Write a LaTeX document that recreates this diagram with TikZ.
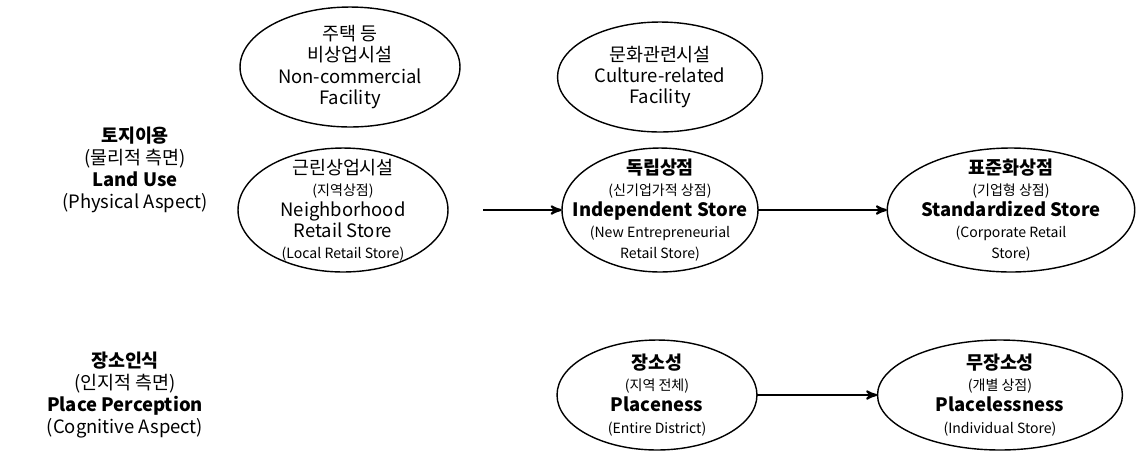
\documentclass[tikz,border=0pt]{standalone}
\usepackage{fontspec}
\setmainfont{Noto Sans CJK KR}
\usetikzlibrary{arrows,positioning}
\tikzset{
	%Define standard arrow tip
	>=stealth',
	%Define style for the boxes that hold the ellipse texts
	oval/.style 2 args={
		inner sep=0pt,
		minimum width=#1,
		minimum height=#2,
		align=center,
		font=\fontsize{10.5}{12}\selectfont},
	% Define arrow style
	pil/.style={
		->,
		very thick},
	side/.style={align=center, font=\fontsize{10.5}{12.5}\selectfont}
}
\newcommand{\sm}[1]{{\fontsize{8}{9.5}\selectfont #1}}
\newcommand{\bd}[1]{{\bfseries #1}}

\begin{document}
\begin{tikzpicture}[x=0.02cm, y=-0.02cm]
	\useasboundingbox (0,0) rectangle (1137,458);
	
	\node[side] (land) at (135,170) {\bd{토지이용}\\(물리적 측면)\\\bd{Land Use}\\(Physical Aspect)};
	\node[side] (place) at (125,395) {\bd{장소인식}\\(인지적 측면)\\\bd{Place Perception}\\(Cognitive Aspect)};
	
	\node[oval={4.4cm}{2.4cm}] (noncom) at (350,67) {주택 등\\비상업시설\\Non-commercial\\Facility};
	\node[oval={4.2cm}{2.48cm}] (neigh) at (343,210) {근린상업시설\\\sm{(지역상점)}\\Neighborhood\\Retail Store\\\sm{(Local Retail Store)}};
	\node[oval={4.1cm}{2.2cm}] (culture) at (660,77) {문화관련시설\\Culture-related\\Facility};
	\node[oval={3.92cm}{2.48cm}] (indep) at (660,210) {\bd{독립상점}\\\sm{(신기업가적 상점)}\\\bd{Independent Store}\\\sm{(New Entrepreneurial}\\\sm{Retail Store)}};
	\node[oval={4.95cm}{2.48cm}] (stand) at (1011,210) {\bd{표준화상점}\\\sm{(기업형 상점)}\\\bd{Standardized Store}\\\sm{(Corporate Retail}\\\sm{Store)}};
	\node[oval={4cm}{2.2cm}] (placeness) at (657,395) {\bd{장소성}\\\sm{(지역 전체)}\\\bd{Placeness}\\\sm{(Entire District)}};
	\node[oval={4.9cm}{2.2cm}] (placeless) at (1000,395) {\bd{무장소성}\\\sm{(개별 상점)}\\\bd{Placelessness}\\\sm{(Individual Store)}};
	
	% ellipse outlines
	\foreach \n/\rx/\ry in {noncom/2.2/1.2, neigh/2.1/1.24, culture/2.05/1.1, indep/1.96/1.24,
		stand/2.475/1.24, placeness/2/1.1, placeless/2.45/1.1}
		\draw[thick] (\n.center) ellipse [x radius=\rx cm, y radius=\ry cm];
	
	\draw[pil] ([xshift=0.7cm]neigh.east) -- (indep.west);
	\draw[pil] (indep.east) -- (stand.west);
	\draw[pil] (placeness.east) -- (placeless.west);
	
\end{tikzpicture}
\end{document}
